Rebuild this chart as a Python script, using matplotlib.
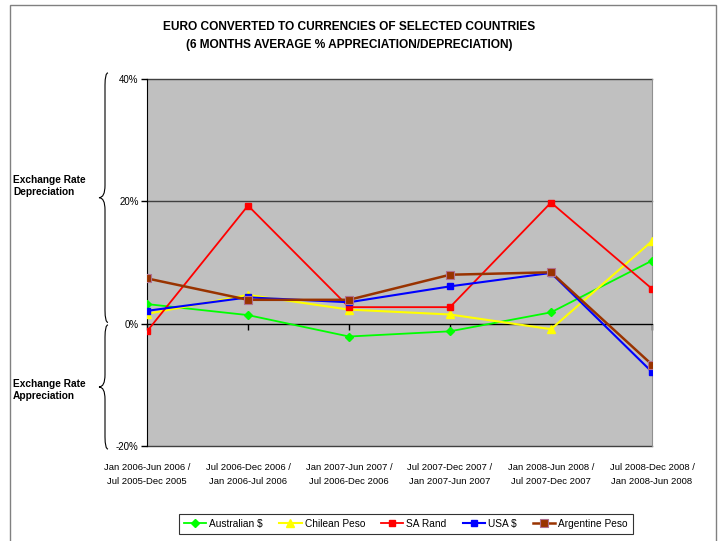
import matplotlib
matplotlib.use('Agg')
import matplotlib.pyplot as plt
from matplotlib.path import Path
from matplotlib.patches import PathPatch, Rectangle
from matplotlib.transforms import blended_transform_factory

plt.rcParams['font.family'] = ['Liberation Sans Narrow', 'Liberation Sans', 'DejaVu Sans']

# periods (current half-year / previous half-year)
periods = ['Jan 2006-Jun 2006 /\nJul 2005-Dec 2005',
           'Jul 2006-Dec 2006 /\nJan 2006-Jul 2006',
           'Jan 2007-Jun 2007 /\nJul 2006-Dec 2006',
           'Jul 2007-Dec 2007 /\nJan 2007-Jun 2007',
           'Jan 2008-Jun 2008 /\nJul 2007-Dec 2007',
           'Jul 2008-Dec 2008 /\nJan 2008-Jun 2008']

# 6 months average % appreciation/depreciation
australian = [3.2, 1.4, -2.1, -1.25, 1.85, 10.3]
chilean = [1.6, 4.7, 2.3, 1.5, -0.9, 13.5]
sa_rand = [-1.25, 19.3, 2.7, 2.7, 19.8, 5.7]
usa = [2.1, 4.3, 3.5, 6.1, 8.3, -7.9]
argentine = [7.4, 3.9, 3.9, 8.0, 8.4, -6.7]

yticks = [-20, 0, 20, 40]
ytick_labels = ['-20%', '0%', '20%', '40%']

fig = plt.figure(figsize=(7.25, 5.41), dpi=100)
ax = fig.add_axes([147 / 725, 1 - 446 / 541, 505 / 725, 367 / 541])
ax.set_facecolor('#C0C0C0')

x = list(range(len(periods)))

# gridlines
for v in yticks:
    ax.axhline(v, color='#404040', lw=1, zorder=1, clip_on=False)

ax.plot(x, australian, color='#00FF00', lw=1.3, marker='D', ms=4, label='Australian $', zorder=3)
ax.plot(x, chilean, color='#FFFF00', lw=1.5, marker='^', ms=6, label='Chilean Peso', zorder=3)
ax.plot(x, sa_rand, color='#FF0000', lw=1.3, marker='s', ms=5, label='SA Rand', zorder=3)
ax.plot(x, usa, color='#0000FF', lw=1.5, marker='s', ms=5, label='USA $', zorder=4)
ax.plot(x, argentine, color='#993300', lw=1.8, marker='s', ms=5.5, mfc='#993300',
        mec='#B07090', mew=0.8, label='Argentine Peso', zorder=4)

ax.set_xlim(0, len(periods) - 1)
ax.set_ylim(-20, 40)
ax.set_yticks(yticks)
ax.set_yticklabels(ytick_labels, fontsize=7)
ax.tick_params(axis='y', direction='out', length=4, width=1, color='black', pad=2)

# category axis crosses at 0
ax.spines['bottom'].set_position(('data', 0))
ax.spines['bottom'].set_color('black')
ax.spines['left'].set_color('black')
ax.spines['top'].set_visible(False)
ax.spines['right'].set_color('#909090')
ax.set_xticks(x)
ax.tick_params(axis='x', direction='out', length=4, width=1, color='black', labelbottom=False)

trans = blended_transform_factory(ax.transData, ax.transAxes)
for i, lab in enumerate(periods):
    ax.text(i, -0.045, lab, transform=trans, ha='center', va='top', fontsize=6.8,
            linespacing=1.75)

fig.text(349 / 725, 1 - 27 / 541, 'EURO CONVERTED TO CURRENCIES OF SELECTED COUNTRIES',
         ha='center', va='center', fontsize=8.6, fontweight='bold')
fig.text(349 / 725, 1 - 45 / 541, '(6 MONTHS AVERAGE % APPRECIATION/DEPRECIATION)',
         ha='center', va='center', fontsize=8.6, fontweight='bold')

# braces on the left
btrans = blended_transform_factory(fig.transFigure, ax.transData)


def brace(top, bottom, xb, xt, d, h):
    mid = (top + bottom) / 2
    verts = [(xb + d, top), (xb, top), (xb, top - h),
             (xb, mid + h),
             (xb, mid), (xt, mid),
             (xb, mid), (xb, mid - h),
             (xb, bottom + h),
             (xb, bottom), (xb + d, bottom)]
    codes = [Path.MOVETO, Path.CURVE3, Path.CURVE3,
             Path.LINETO,
             Path.CURVE3, Path.CURVE3,
             Path.CURVE3, Path.CURVE3,
             Path.LINETO,
             Path.CURVE3, Path.CURVE3]
    return PathPatch(Path(verts, codes), transform=btrans, fill=False,
                     lw=0.8, color='black', clip_on=False)


fig.add_artist(brace(41, 0.2, 105 / 725, 99 / 725, 3 / 725, 2.0))
fig.add_artist(brace(-0.2, -20.5, 105 / 725, 99 / 725, 3 / 725, 2.0))

fig.text(13 / 725, 1 - 186 / 541, 'Exchange Rate\nDepreciation', ha='left', va='center',
         fontsize=7.3, fontweight='bold')
fig.text(13 / 725, 1 - 390 / 541, 'Exchange Rate\nAppreciation', ha='left', va='center',
         fontsize=7.3, fontweight='bold')

leg = fig.legend(loc='center', bbox_to_anchor=(406 / 725, 1 - 524 / 541), ncol=5,
                 fontsize=7.3, frameon=True, fancybox=False, edgecolor='black',
                 handlelength=2.2, handletextpad=0.3, columnspacing=1.6,
                 borderpad=0.5)
leg.get_frame().set_linewidth(0.8)

# outer chart border
fig.add_artist(Rectangle((10 / 725, -0.05), 706 / 725, 1.05 - 5 / 541,
                         transform=fig.transFigure, fill=False,
                         edgecolor='#808080', lw=1))

fig.savefig('out.png', dpi=100)
